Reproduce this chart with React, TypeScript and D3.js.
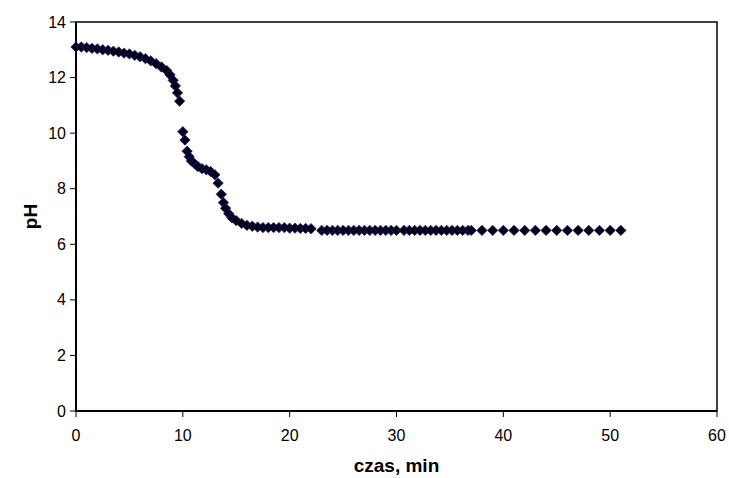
import React from "react";
import * as d3 from "d3";

const timeMin: number[] = [
  0, 0.5, 1, 1.5, 2, 2.5, 3, 3.5, 4, 4.5, 5, 5.5, 6, 6.5, 7, 7.5, 8, 8.5, 8.8, 9.1, 9.3, 9.5, 9.7,
  10.0, 10.2, 10.4, 10.6, 10.8, 11.1, 11.4, 11.8, 12.2, 12.6, 13.0, 13.3, 13.6, 13.8, 14.0, 14.3, 14.6, 15.0, 15.5,
  16, 16.5, 17, 17.5, 18, 18.5, 19, 19.5, 20, 20.5, 21, 21.5, 22,
  23, 23.5, 24, 24.5, 25, 25.5, 26, 26.5, 27, 27.5, 28, 28.5, 29, 29.5, 30,
  30.7, 31.2, 31.7, 32.2, 32.7, 33.2, 33.7, 34.2, 34.7, 35.2, 35.7, 36.2, 36.7,
  37, 38, 39, 40, 41, 42, 43, 44, 45, 46, 47, 48, 49, 50, 51,
];

const phValues: number[] = [
  13.1, 13.1, 13.08, 13.05, 13.03, 13.0, 12.98, 12.95, 12.92, 12.88, 12.85, 12.8, 12.75, 12.68, 12.6, 12.5, 12.38, 12.25, 12.1, 11.9, 11.7, 11.45, 11.15,
  10.05, 9.75, 9.35, 9.15, 9.0, 8.9, 8.8, 8.72, 8.68, 8.62, 8.5, 8.2, 7.8, 7.5, 7.3, 7.1, 6.95, 6.85, 6.75,
  6.68, 6.65, 6.62, 6.6, 6.6, 6.6, 6.6, 6.6, 6.58, 6.58, 6.57, 6.57, 6.56,
  6.5, 6.5, 6.5, 6.5, 6.5, 6.5, 6.5, 6.5, 6.5, 6.5, 6.5, 6.5, 6.5, 6.5, 6.5,
  6.5, 6.5, 6.5, 6.5, 6.5, 6.5, 6.5, 6.5, 6.5, 6.5, 6.5, 6.5, 6.5,
  6.5, 6.5, 6.5, 6.5, 6.5, 6.5, 6.5, 6.5, 6.5, 6.5, 6.5, 6.5, 6.5, 6.5, 6.5,
];

const xTicks: number[] = [0, 10, 20, 30, 40, 50, 60];
const yTicks: number[] = [0, 2, 4, 6, 8, 10, 12, 14];
const xTitle = "czas, min";
const yTitle = "pH";

export default function App() {
  const W = 729;
  const H = 478;
  const left = 76, right = 717, top = 22, bottom = 411;
  const x = d3.scaleLinear().domain([0, 60]).range([left, right]);
  const y = d3.scaleLinear().domain([0, 14]).range([bottom, top]);
  const sym = d3.symbol().type(d3.symbolDiamond2).size(68)();
  const font = "'Liberation Sans', Arial, sans-serif";

  return (
    <svg width={W} height={H} style={{ position: "absolute", left: 0, top: 0, background: "#fff" }}>
      <rect x={0} y={0} width={W} height={H} fill="#fff" />
      <rect x={left} y={top} width={right - left} height={bottom - top} fill="none" stroke="#000" strokeWidth={1.5} />
      <line x1={left} x2={left} y1={top} y2={bottom} stroke="#000" strokeWidth={2} />
      <line x1={left} x2={right} y1={bottom} y2={bottom} stroke="#000" strokeWidth={2} />
      {yTicks.map((t) => (
        <g key={"y" + t}>
          <line x1={left - 6} x2={left} y1={y(t)} y2={y(t)} stroke="#000" strokeWidth={1} />
          <text x={left - 10} y={y(t)} dy="0.35em" textAnchor="end" fontFamily={font} fontSize={16} fill="#000">
            {t}
          </text>
        </g>
      ))}
      {xTicks.map((t) => (
        <g key={"x" + t}>
          <line x1={x(t)} x2={x(t)} y1={bottom} y2={bottom + 6} stroke="#000" strokeWidth={1} />
          <text x={x(t)} y={bottom + 30} textAnchor="middle" fontFamily={font} fontSize={16} fill="#000">
            {t}
          </text>
        </g>
      ))}
      <text x={(left + right) / 2} y={472} textAnchor="middle" fontFamily={font} fontSize={19} fontWeight="bold" fill="#000">
        {xTitle}
      </text>
      <text
        transform={`translate(37,${(top + bottom) / 2}) rotate(-90)`}
        textAnchor="middle"
        fontFamily={font}
        fontSize={19}
        fontWeight="bold"
        fill="#000"
      >
        {yTitle}
      </text>
      {timeMin.map((t, i) => (
        <path
          key={"p" + i}
          d={sym as string}
          transform={`translate(${x(t)},${y(phValues[i])})`}
          fill="#000010"
          stroke="#1a1a80"
          strokeWidth={0.8}
        />
      ))}
    </svg>
  );
}
